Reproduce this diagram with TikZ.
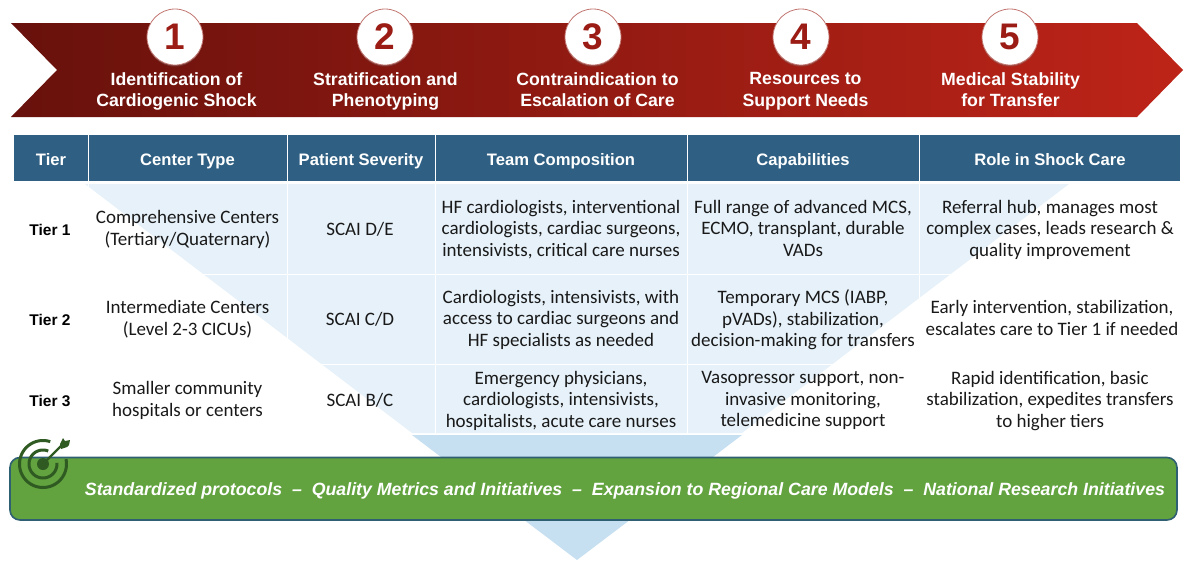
\documentclass[tikz,border=0pt]{standalone}
\usepackage{fontspec}
\setmainfont{Carlito}
\newfontfamily\arialf{Liberation Sans}
\usetikzlibrary{shadows}
\definecolor{hdr}{HTML}{2F5F82}
\definecolor{lite}{HTML}{E6F1F9}
\definecolor{mid}{HTML}{C6DFF1}
\definecolor{grn}{HTML}{62A23F}
\definecolor{grnedge}{HTML}{2F5F72}
\definecolor{tgt}{HTML}{2F5A22}
\definecolor{num}{HTML}{9B1C14}
\definecolor{bandl}{HTML}{68110C}
\definecolor{bandr}{HTML}{BE2418}
\tikzset{
  struts/.style={yshift=-2.4pt,execute at begin node=\strut,execute at end node=\strut},
  hcell/.style={struts,anchor=center,text=white,align=center,inner sep=0pt,font=\arialf\bfseries\fontsize{16.6}{19}\selectfont},
  bodycell/.style={struts,anchor=center,text=black!90,align=center,inner sep=0pt,font=\fontsize{19}{21.6}\selectfont},
  tiercell/.style={struts,anchor=center,text=black,align=center,inner sep=0pt,font=\arialf\bfseries\fontsize{15.5}{19}\selectfont},
  steptext/.style={struts,yshift=-0.6pt,anchor=center,text=white,align=center,inner sep=0pt,font=\arialf\bfseries\fontsize{17.7}{21.2}\selectfont},
  stepnum/.style={circle,draw=num!60,line width=0.8pt,fill=white,minimum size=56pt,inner sep=0pt,text=num,
     font=\arialf\bfseries\fontsize{37}{40}\selectfont,drop shadow={shadow xshift=0pt,shadow yshift=-1.5pt,opacity=.35}},
  sep/.style={white,line width=1pt},
}
\begin{document}
\begin{tikzpicture}[x=1pt,y=-1pt]
\useasboundingbox (0,0) rectangle (1200,571);
% chevron band
\shade[left color=bandl,right color=bandr]
  (11,23) -- (1137,23) -- (1183,70) -- (1137,117) -- (11,117) -- (57,70) -- cycle;
% step circles and labels
\foreach \n/\x/\t in {1/176/{Identification of\\Cardiogenic Shock},2/385/{Stratification and\\Phenotyping},3/597/{Contraindication to\\Escalation of Care},4/805/{Resources to\\Support Needs},5/1010/{Medical Stability\\for Transfer}}{
  \node[steptext] (s\n) at (\x+0.5,89.5) {\t};
}
\foreach \n/\x in {1/175,2/385,3/593,4/801,5/1010}{
  \node[stepnum] (c\n) at (\x,37) {\n};
}
% funnel
\fill[lite] (85,184) -- (1069,184) -- (742,433) -- (412,433) -- cycle;
\fill[mid] (412,435) -- (742,435) -- (577,560) -- cycle;
% header
\fill[hdr] (14,135) rectangle (1180,181);
% separators
\foreach \x in {88,287,435,687,919}{\draw[sep] (\x,135) -- (\x,433);}
\draw[sep] (14,274) -- (1180,274);
\draw[sep] (14,364) -- (1180,364);
% header text
\node[hcell] (h1) at (51,159) {Tier};
\node[hcell] (h2) at (187.5,159) {Center Type};
\node[hcell] (h3) at (361,159) {Patient Severity};
\node[hcell] (h4) at (561,159) {Team Composition};
\node[hcell] (h5) at (803,159) {Capabilities};
\node[hcell] (h6) at (1050,159) {Role in Shock Care};
% row 1
\node[tiercell] (t1) at (50,229) {Tier 1};
\node[bodycell] (a1) at (187.5,229) {Comprehensive Centers\\(Tertiary/Quaternary)};
\node[bodycell] (b1) at (360,229) {SCAI D/E};
\node[bodycell] (d1) at (561,229) {HF cardiologists, interventional\\cardiologists, cardiac surgeons,\\intensivists, critical care nurses};
\node[bodycell] (e1) at (803,229) {Full range of advanced MCS,\\ECMO, transplant, durable\\VADs};
\node[bodycell] (f1) at (1050,229) {Referral hub, manages most\\complex cases, leads research \&\\quality improvement};
% row 2
\node[tiercell] (t2) at (50,319) {Tier 2};
\node[bodycell] (a2) at (187.5,319) {Intermediate Centers\\(Level 2-3 CICUs)};
\node[bodycell] (b2) at (360,319) {SCAI C/D};
\node[bodycell] (d2) at (561,319) {Cardiologists, intensivists, with\\access to cardiac surgeons and\\HF specialists as needed};
\node[bodycell] (e2) at (803,319) {Temporary MCS (IABP,\\pVADs), stabilization,\\decision-making for transfers};
\node[bodycell] (f2) at (1052,319) {Early intervention, stabilization,\\escalates care to Tier 1 if needed};
% row 3
\node[tiercell] (t3) at (50,400) {Tier 3};
\node[bodycell] (a3) at (187.5,400) {Smaller community\\hospitals or centers};
\node[bodycell] (b3) at (360,400) {SCAI B/C};
\node[bodycell] (d3) at (561,400) {Emergency physicians,\\cardiologists, intensivists,\\hospitalists, acute care nurses};
\node[bodycell] (e3) at (803,400) {Vasopressor support, non-\\invasive monitoring,\\telemedicine support};
\node[bodycell] (f3) at (1050,400) {Rapid identification, basic\\stabilization, expedites transfers\\to higher tiers};
% green bar
\draw[grnedge,fill=grn,line width=1.6pt,rounded corners=10pt] (10,457.5) rectangle (1177,520);
\node[struts,anchor=center,text=white,inner sep=0pt,font=\arialf\bfseries\itshape\fontsize{17.75}{20}\selectfont] (bar) at (625,489)
  {Standardized protocols~~–~~Quality Metrics and Initiatives~~–~~Expansion to Regional Care Models~~–~~National Research Initiatives};
% target icon
\draw[tgt,line width=3pt,smooth] plot[domain=72:372,samples=60] ({43+23.5*cos(\x)},{464-23.5*sin(\x)});
\draw[tgt,line width=3pt,smooth] plot[domain=68:365,samples=50] ({43+14*cos(\x)},{464-14*sin(\x)});
\fill[tgt] (43,464) circle (6pt);
\draw[tgt,line width=2.4pt] (43,464) -- (62,445);
\fill[tgt] (60,444) -- (63,438) -- (65,441) -- (70,440) -- (69,445) -- (67,447) -- (61,449) -- cycle;
\end{tikzpicture}
\end{document}
